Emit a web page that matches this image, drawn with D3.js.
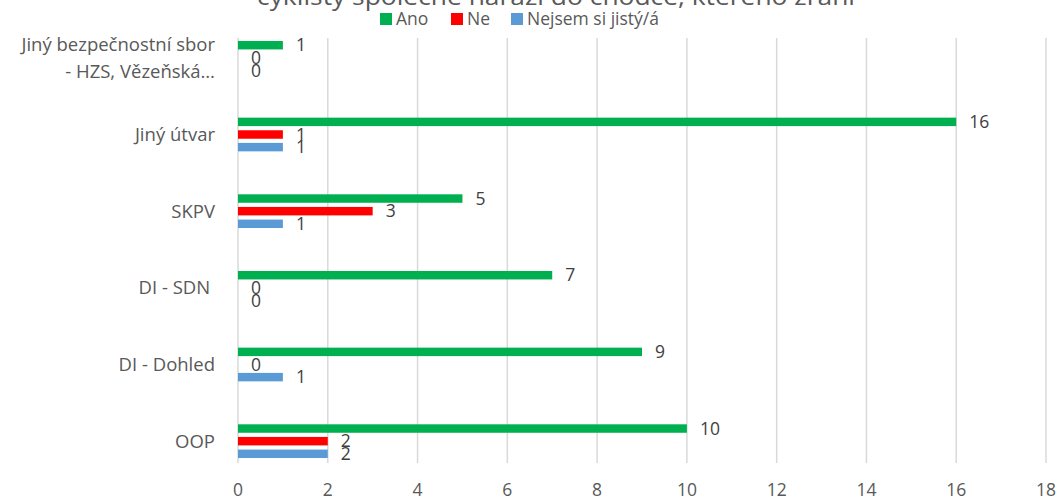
<!DOCTYPE html>
<html>
<head>
<meta charset="utf-8">
<script src="https://cdn.jsdelivr.net/npm/d3@7"></script>
<style>
  body { margin: 0; background: #fff; }
  text { font-family: "Open Sans", sans-serif; }
</style>
</head>
<body>
<svg id="chart"></svg>
<script>
const width = 1058, height = 498;

// data
const categories = [
  ["Jiný bezpečnostní sbor", "- HZS, Vězeňská…"],
  ["Jiný útvar"],
  ["SKPV"],
  ["DI - SDN\u00a0"],
  ["DI - Dohled"],
  ["OOP"]
];
const seriesNames = ["Ano", "Ne", "Nejsem si jistý/á"];
const ano = [1, 16, 5, 7, 9, 10];
const ne = [0, 1, 3, 0, 0, 2];
const nejsem = [0, 1, 1, 0, 1, 2];
const xTicks = [0, 2, 4, 6, 8, 10, 12, 14, 16, 18];
const titleText = "cyklisty společně narazí do chodce, kterého zraní";

const colors = { "Ano": "#00B050", "Ne": "#FF0000", "Nejsem si jistý/á": "#5B9BD5" };
const seriesVals = [ano, ne, nejsem];

const rows = categories.map((c, i) => ({
  idx: i,
  lines: c,
  vals: seriesNames.map((s, j) => ({ name: s, value: seriesVals[j][i] }))
}));

const svg = d3.select("#chart")
  .attr("width", width)
  .attr("height", height);

const x = d3.scaleLinear().domain([0, 18]).range([238, 1046]);
const y0 = d3.scaleBand().domain(d3.range(categories.length)).range([19.5, 479.5]);
const y1 = d3.scaleBand().domain(seriesNames).range([-19, 19]).paddingInner(0.33).paddingOuter(0.17);

// title (cut at the top like the original)
svg.append("text")
  .attr("x", 556).attr("y", 5)
  .attr("text-anchor", "middle")
  .attr("textLength", 598)
  .attr("lengthAdjust", "spacingAndGlyphs")
  .style("font-size", "24px")
  .style("fill", "#595959")
  .text(titleText);

// gridlines
svg.append("g")
  .selectAll("line")
  .data(xTicks)
  .join("line")
  .attr("x1", d => x(d)).attr("x2", d => x(d))
  .attr("y1", 38).attr("y2", 463)
  .attr("stroke", "#D9D9D9")
  .attr("stroke-width", 1.5);

// x tick labels
svg.append("g")
  .selectAll("text")
  .data(xTicks)
  .join("text")
  .attr("x", d => x(d))
  .attr("y", 490)
  .attr("dy", "0.35em")
  .attr("text-anchor", "middle")
  .style("font-size", "17.5px")
  .style("fill", "#595959")
  .text(d => d);

// category labels
const cat = svg.append("g")
  .selectAll("text")
  .data(rows)
  .join("text")
  .attr("text-anchor", "end")
  .style("font-size", "18.5px")
  .style("fill", "#595959")
  .style("white-space", "pre")
  .attr("transform", d => `translate(215,${y0(d.idx) + y0.bandwidth() / 2})`);

cat.selectAll("tspan")
  .data(d => d.lines.map((l, k) => ({ l, k, n: d.lines.length })))
  .join("tspan")
  .attr("x", 0)
  .attr("y", d => (d.k - (d.n - 1) / 2) * 27)
  .attr("dy", "0.35em")
  .text(d => d.l);

// bars
const group = svg.append("g")
  .selectAll("g")
  .data(rows)
  .join("g")
  .attr("transform", d => `translate(0,${y0(d.idx) + y0.bandwidth() / 2})`);

group.selectAll("rect")
  .data(d => d.vals.filter(v => v.value > 0))
  .join("rect")
  .attr("x", x(0))
  .attr("y", d => y1(d.name))
  .attr("width", d => x(d.value) - x(0))
  .attr("height", y1.bandwidth())
  .attr("fill", d => colors[d.name]);

group.selectAll("text")
  .data(d => d.vals)
  .join("text")
  .attr("x", d => x(d.value) + 13)
  .attr("y", d => y1(d.name) + y1.bandwidth() / 2)
  .attr("dy", "0.35em")
  .style("font-size", "17.5px")
  .style("fill", "#404040")
  .text(d => d.value);

// legend
const legend = svg.append("g").attr("transform", "translate(380,19)");
const legendX = [0, 71, 131];
const li = legend.selectAll("g")
  .data(seriesNames)
  .join("g")
  .attr("transform", (d, i) => `translate(${legendX[i]},0)`);
li.append("rect")
  .attr("x", 0).attr("y", -6)
  .attr("width", 12).attr("height", 12)
  .attr("fill", d => colors[d]);
li.append("text")
  .attr("x", 16).attr("y", 0)
  .attr("dy", "0.35em")
  .style("font-size", "17.5px")
  .style("fill", "#595959")
  .text(d => d);
</script>
</body>
</html>
